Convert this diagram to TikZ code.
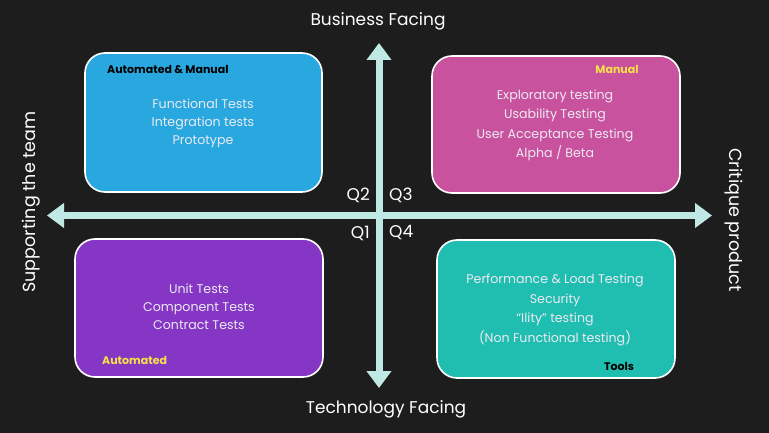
\documentclass[tikz,border=0pt]{standalone}
\usepackage{fontspec}
\setmainfont{Poppins}
\usetikzlibrary{arrows.meta}
\definecolor{bg}{RGB}{30,29,29}
\definecolor{axis}{RGB}{192,232,228}
\definecolor{qblue}{RGB}{41,168,224}
\definecolor{qpink}{RGB}{201,82,158}
\definecolor{qpurple}{RGB}{134,54,196}
\definecolor{qteal}{RGB}{32,190,176}
\definecolor{tag}{RGB}{245,226,72}
\definecolor{body}{RGB}{236,234,242}
\begin{document}
\begin{tikzpicture}[x=1pt,y=-1pt,
  quad/.style={draw=white,line width=1.6pt,rounded corners=20pt,inner sep=0pt},
  item/.style={text=body,font=\fontsize{12.6}{13}\selectfont,inner sep=0pt,anchor=base},
  tagb/.style={font=\fontsize{11}{12}\bfseries\selectfont,inner sep=0pt},
  axislabel/.style={text=white,font=\fontsize{17}{19}\selectfont,inner sep=0pt},
  sidelabel/.style={text=white,font=\fontsize{17.5}{19}\selectfont,inner sep=0pt},
  qlabel/.style={text=white,font=\fontsize{17}{19}\selectfont,inner sep=0pt},
  axisline/.style={draw=axis,line width=7pt,
    arrows={Triangle[width=24pt,length=17pt]-Triangle[width=24pt,length=17pt]}}]
\fill[bg] (0,0) rectangle (769,433);
\useasboundingbox (0,0) rectangle (769,433);

% quadrant boxes
\node[quad,fill=qblue,minimum width=237pt,minimum height=139pt] (q2) at (203.5,122.5) {};
\node[quad,fill=qpink,minimum width=248pt,minimum height=137pt] (q3) at (556,124.5) {};
\node[quad,fill=qpurple,minimum width=248pt,minimum height=138pt] (q1) at (199,308) {};
\node[quad,fill=qteal,minimum width=238pt,minimum height=138pt] (q4) at (556,309) {};

% axes
\coordinate (axL) at (47,215.5);
\coordinate (axR) at (712,215.5);
\coordinate (axT) at (379,43);
\coordinate (axB) at (379,388);
\path[axisline] (axL) -- (axR);
\path[axisline] (axT) -- (axB);

% axis labels
\node[axislabel] (bf) at (378,21) {Business Facing};
\node[axislabel] (tf) at (386,409) {Technology Facing};
\node[sidelabel,rotate=90] (st) at (31,202) {Supporting the team};
\node[sidelabel,rotate=-90] (cp) at (734,220) {Critique product};

% quadrant numbers
\node[qlabel,anchor=east] (l2) at (370,195) {Q2};
\node[qlabel,anchor=west] (l3) at (389,195) {Q3};
\node[qlabel,anchor=east] (l1) at (370,233) {Q1};
\node[qlabel,anchor=west] (l4) at (389,233) {Q4};

% Q2 contents (item nodes sit on their baselines)
\node[tagb,anchor=west,text=black] (t2) at (107,69) {Automated \& Manual};
\node[item] (a2a) at (203,108.5) {Functional Tests};
\node[item] (a2b) at (203,126.5) {Integration tests};
\node[item] (a2c) at (203,144.5) {Prototype};

% Q3 contents
\node[tagb,text=tag] (t3) at (617,69) {Manual};
\node[item] (a3a) at (555,99.5) {Exploratory testing};
\node[item] (a3b) at (555,119) {Usability Testing};
\node[item] (a3c) at (555,138.5) {User Acceptance Testing};
\node[item] (a3d) at (555,158) {Alpha / Beta};

% Q1 contents
\node[item] (a1a) at (199,293.5) {Unit Tests};
\node[item] (a1b) at (199,311.5) {Component Tests};
\node[item] (a1c) at (199,329.5) {Contract Tests};
\node[tagb,anchor=west,text=tag] (t1) at (102,360) {Automated};

% Q4 contents
\node[item] (a4a) at (555,283.5) {Performance \& Load Testing};
\node[item] (a4b) at (555,303) {Security};
\node[item] (a4c) at (555,322.5) {``Ility'' testing};
\node[item] (a4d) at (555,342) {(Non Functional testing)};
\node[tagb,text=black] (t4) at (619,366) {Tools};
\end{tikzpicture}
\end{document}
